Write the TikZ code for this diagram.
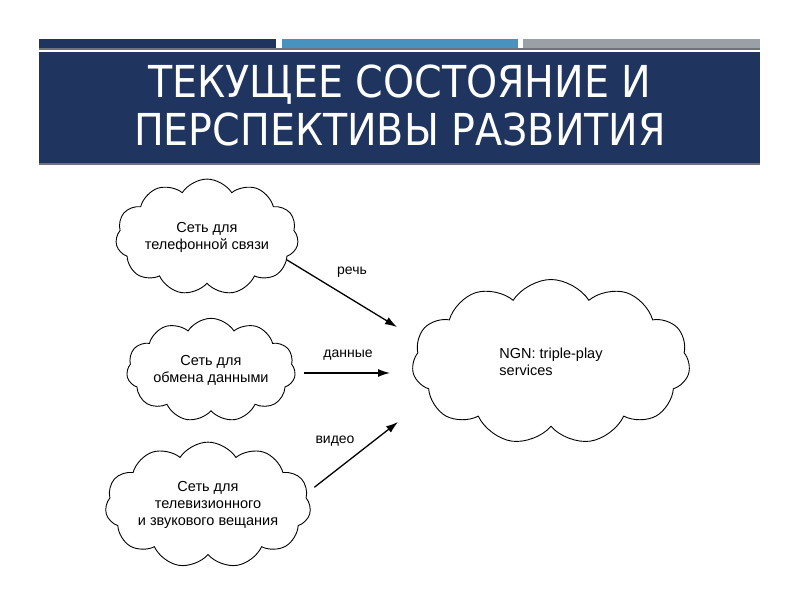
\documentclass[tikz,border=0pt]{standalone}
\usepackage{fontspec}
\setmainfont{Liberation Sans}
\newfontfamily\titlefont{DejaVu Sans Condensed}
\usetikzlibrary{shapes.symbols,arrows.meta}
\definecolor{navy}{RGB}{31,53,96}
\definecolor{skyblue}{RGB}{72,146,192}
\definecolor{steelgray}{RGB}{154,160,166}
\definecolor{rulegray}{RGB}{110,114,122}
\begin{document}
\begin{tikzpicture}[x=1pt,y=-1pt,
    net/.style={cloud,cloud puffs=11,cloud puff arc=115,draw,line width=0.9pt,
      align=center,inner sep=0pt,font=\fontsize{14.5}{17}\selectfont},
    flow/.style={-{Latex[length=12pt,width=8pt]},line width=1.3pt},
    lbl/.style={font=\fontsize{14}{17}\selectfont},
    head/.style={text=white,anchor=base,font=\titlefont\fontsize{44}{48}\selectfont}]
  \useasboundingbox (0,0) rectangle (800,600);
  % header bars
  \fill[navy] (39,39) rectangle (276,48);
  \fill[skyblue] (282,39) rectangle (518,48);
  \fill[steelgray] (523,39) rectangle (760,48);
  \fill[rulegray] (39,48) rectangle (760,50);
  \fill[navy] (39,52) rectangle (760,163);
  \fill[rulegray] (39,163) rectangle (760,165);
  \node[head] (title1) at (400,97) {ТЕКУЩЕЕ СОСТОЯНИЕ И};
  \node[head] (title2) at (400,145) {ПЕРСПЕКТИВЫ РАЗВИТИЯ};
  % networks
  \node[net,aspect=1.9,minimum width=179pt,minimum height=93pt] (tel) at (207,237) {Сеть для\\телефонной связи};
  \node[net,aspect=2,minimum width=163pt,minimum height=80pt] (data) at (211,370) {Сеть для\\обмена данными};
  \node[net,aspect=2,minimum width=199pt,minimum height=100pt] (tv) at (208,505) {Сеть для\\телевизионного\\и звукового вещания};
  \node[net,aspect=1.7,align=left,minimum width=278pt,minimum height=165pt] (ngn) at (551,362) {NGN: triple-play\\services};
  % flows
  \coordinate (speech-end) at (397,327);
  \coordinate (data-end) at (390,373);
  \coordinate (video-end) at (398,422);
  \draw[flow] (tel.-16) -- (speech-end);
  \draw[flow,shorten <=9pt] (data-end -| data.east) -- (data-end);
  \draw[flow,shorten <=9pt] (tv.7) -- (video-end);
  \node[lbl] (speech) at (352,272) {речь};
  \node[lbl] (bits) at (348,355) {данные};
  \node[lbl] (video) at (335,441) {видео};
\end{tikzpicture}
\end{document}
